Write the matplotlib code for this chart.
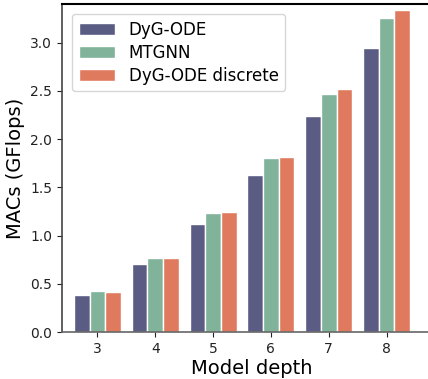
import numpy as np
import matplotlib.pyplot as plt

depths = [3, 4, 5, 6, 7, 8]
dyg_ode = [0.384, 0.706, 1.12, 1.63, 2.243, 2.949]
mtgnn = [0.426, 0.768, 1.236, 1.807, 2.47, 3.25]
dyg_ode_discrete = [0.415, 0.768, 1.246, 1.817, 2.523, 3.333]

series = [('DyG-ODE', dyg_ode, '#5a5c83'),
          ('MTGNN', mtgnn, '#80b39a'),
          ('DyG-ODE discrete', dyg_ode_discrete, '#e07a5f')]

fig = plt.figure(figsize=(4.28, 3.79), dpi=100, facecolor='white')
# axes run past the right edge so the right spine is cut off, as in the original
ax = fig.add_axes([62/428, 47/379, 380/428, 328/379])

x = np.array(depths, dtype=float)
w = 0.27
for i, (label, vals, color) in enumerate(series):
    ax.bar(x + (i - 1)*w, vals, width=w, color=color, edgecolor='white', lw=1, label=label)

ax.set_xlim(2.386, 8.96)
ax.set_ylim(0, 3.40)
ax.set_xticks(depths)
ax.set_yticks([0.0, 0.5, 1.0, 1.5, 2.0, 2.5, 3.0])
ax.tick_params(labelsize=10, colors='#222222')
ax.spines['top'].set_linewidth(1.5)
ax.spines['top'].set_color('black')
ax.spines['left'].set_color('#444444')
ax.spines['bottom'].set_color('#666666')
for s in ['left', 'bottom']:
    ax.spines[s].set_linewidth(1.2)
ax.set_xlabel('Model depth', fontsize=14, labelpad=2)
ax.set_ylabel('MACs (GFlops)', fontsize=14)
ax.legend(loc='upper left', fontsize=12, handlelength=2.2, labelspacing=0.3,
          borderaxespad=0.6)

fig.savefig('out.png', dpi=100)
